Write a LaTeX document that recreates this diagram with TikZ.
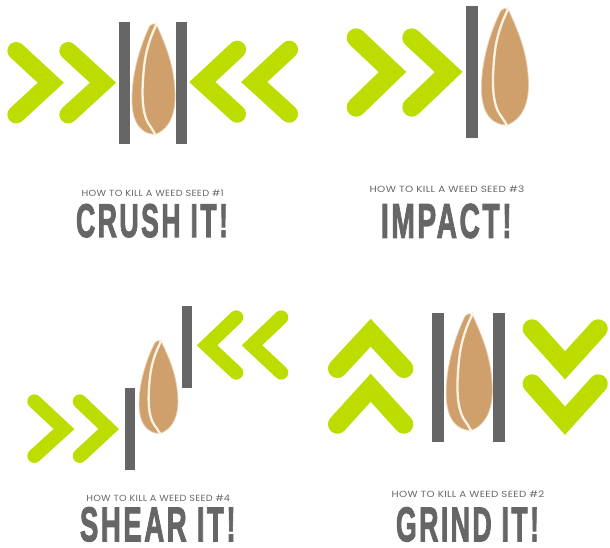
\documentclass[tikz,border=0pt]{standalone}
\usepackage{fontspec}
\usepackage{graphicx}
\newfontfamily\subf[LetterSpace=3]{Poppins}
\newfontfamily\titf[FakeBold=2.5,LetterSpace=9]{Liberation Sans Bold}
\definecolor{chevgreen}{HTML}{BDDC00}
\definecolor{bargray}{HTML}{666666}
\definecolor{seedtan}{HTML}{D0A06C}
\definecolor{seededge}{HTML}{E6CBA8}
\definecolor{crackcream}{HTML}{FBF3E4}
\tikzset{
  chev/.style={draw=chevgreen,line cap=round,line join=miter,miter limit=10},
  barbox/.style={fill=bargray,draw=none},
  sublabel/.style={inner sep=0pt,text=bargray},
  titlelabel/.style={inner sep=0pt,text=bargray}
}
\newcommand{\seedshape}[4]{%
  \begin{scope}[shift={(#1,#2)},xscale=#3/3,yscale=#4/3]
    \fill[seedtan,draw=seededge,line width=.7pt] (10,-162) .. controls (30,-115) and (62,-50) .. (65,40) .. controls (68,100) and (50,150) .. (5,166) .. controls (-30,165) and (-64,140) .. (-64,60) .. controls (-64,-30) and (-30,-120) .. (-10,-160) .. controls (-5,-167) and (5,-167) .. (10,-162) -- cycle;
    \draw[crackcream,line width=2.3pt] plot[smooth,tension=.6] coordinates {(12,-170)(-10,-117)(-25,-57)(-32,23)(-30,83)(-20,123)(-5,148)(8,170)};
  \end{scope}}
\newcommand{\sublab}[5]{\node[sublabel] (#1) at (#2,#3) {\resizebox{#4pt}{6.6pt}{\subf #5}};}
\newcommand{\titlab}[6]{\node[titlelabel] (#1) at (#2,#3) {\resizebox{#4pt}{#5pt}{\titf #6}};}
\begin{document}
\begin{tikzpicture}[x=1pt,y=-1pt]
\useasboundingbox (0,0) rectangle (610,547);
% Panel 1 crush
\seedshape{153.3}{79}{1}{1}
\fill[barbox] (119,22) rectangle (130,144);
\fill[barbox] (176,22) rectangle (187,144);
\draw[chev,line width=17.7pt] (16.2,50.8)--(50.8,82.7)--(16.2,114.6);
\draw[chev,line width=17.7pt] (68.2,50.8)--(103,82.7)--(68.2,114.6);
\draw[chev,line width=17.7pt] (237.2,49.5)--(202.3,82)--(237.2,113.9);
\draw[chev,line width=17.7pt] (289.2,49.5)--(254.2,82)--(289.2,113.9);
\sublab{subA}{152.7}{193.7}{142}{HOW TO KILL A WEED SEED \#1}
\titlab{titA}{152}{220.7}{152}{33}{CRUSH IT!}
% Panel 3 impact
\seedshape{504.7}{66.7}{1.09}{1.055}
\fill[barbox] (466,6) rectangle (478,138);
\draw[chev,line width=19pt] (356.2,37.8)--(392.5,72)--(356.2,107.2);
\draw[chev,line width=19pt] (411.8,37.8)--(448.7,72)--(411.8,107.2);
\sublab{subC}{447}{189.3}{154.6}{HOW TO KILL A WEED SEED \#3}
\titlab{titC}{446.3}{221}{130.7}{34}{IMPACT!}
% Panel 4 shear
\seedshape{158.3}{387}{.9}{.84}
\fill[barbox] (182,306) rectangle (192,387.7);
\fill[barbox] (125,388) rectangle (135,470);
\draw[chev,line width=14.1pt] (34.4,401.4)--(64,429)--(34.4,455.9);
\draw[chev,line width=14.1pt] (79.8,401.4)--(108.7,429)--(79.8,455.9);
\draw[chev,line width=14.1pt] (236.2,317.4)--(207,345.3)--(236.2,372.6);
\draw[chev,line width=14.1pt] (281.2,317.4)--(252,345.3)--(281.2,372.6);
\sublab{subD}{158.2}{498}{143.7}{HOW TO KILL A WEED SEED \#4}
\titlab{titD}{157.8}{524.4}{155.7}{34}{SHEAR IT!}
% Panel 2 grind
\seedshape{469}{372}{1.07}{1.055}
\fill[barbox] (432,313) rectangle (444,442);
\fill[barbox] (493,313) rectangle (505,442);
\draw[chev,line width=18.9pt] (337.4,368.6)--(370.7,332.7)--(403.9,368.6);
\draw[chev,line width=18.9pt] (337.4,424.3)--(370.7,387.7)--(403.9,424.3);
\draw[chev,line width=18.9pt] (532.1,328.7)--(565,365.3)--(598.3,328.7);
\draw[chev,line width=18.9pt] (532.1,383.7)--(565,420.7)--(598.3,383.7);
\sublab{subB}{468}{494.7}{152.6}{HOW TO KILL A WEED SEED \#2}
\titlab{titB}{467.5}{524.4}{143}{34}{GRIND IT!}
\end{tikzpicture}
\end{document}
